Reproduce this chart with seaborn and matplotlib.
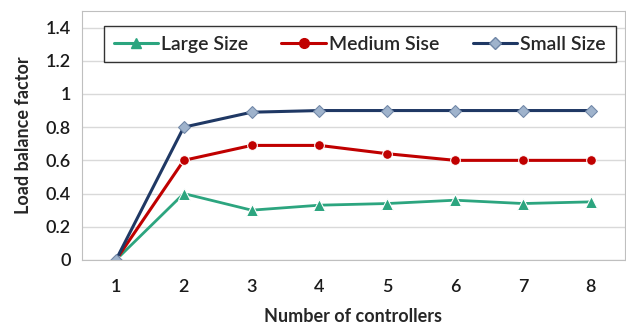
import matplotlib
matplotlib.use("Agg")
from matplotlib import pyplot as plt
from matplotlib.lines import Line2D
import seaborn as sns
import pandas as pd

controllers = [1, 2, 3, 4, 5, 6, 7, 8]
large_size = [0, 0.40, 0.30, 0.33, 0.34, 0.36, 0.34, 0.35]
medium_size = [0, 0.60, 0.69, 0.69, 0.64, 0.60, 0.60, 0.60]
small_size = [0, 0.80, 0.89, 0.90, 0.90, 0.90, 0.90, 0.90]
series_names = ["Large Size", "Medium Sise", "Small Size"]

df = pd.DataFrame({
    "controllers": controllers * 3,
    "value": large_size + medium_size + small_size,
    "series": [s for s in series_names for _ in controllers],
})

sns.set_style("whitegrid")
plt.rcParams["font.family"] = ["Lato", "DejaVu Sans"]
plt.rcParams["font.weight"] = "semibold"

fig = plt.figure(figsize=(6.26, 3.26), dpi=100)
ax = fig.add_axes([0.131, 0.2025, 0.867, 0.764])

# colours and markers per series
palette = {"Large Size": "#2ca57f", "Medium Sise": "#c00000", "Small Size": "#1f3864"}
markers = {"Large Size": "^", "Medium Sise": "o", "Small Size": "D"}
sns.lineplot(data=df, x="controllers", y="value", hue="series", style="series",
             palette=palette, markers=markers, dashes=False, linewidth=2.2,
             markersize=7, ax=ax, legend=False)

# lighter diamonds for the small size series
for line in ax.get_lines():
    if line.get_color() == "#1f3864":
        line.set_markerfacecolor("#9fb3cc")
        line.set_markeredgecolor("#6f86a6")
        line.set_markersize(6)
    elif line.get_color() == "#2ca57f":
        line.set_markersize(8)
        line.set_linewidth(2)

handles = [Line2D([], [], color=palette[s], marker=markers[s], linewidth=2.2,
                  markersize=7 if s != "Small Size" else 6,
                  markerfacecolor="#9fb3cc" if s == "Small Size" else palette[s],
                  markeredgecolor="#6f86a6" if s == "Small Size" else palette[s])
           for s in series_names]
leg = ax.legend(handles, series_names, loc="upper right", ncol=3, frameon=True,
                fancybox=False, edgecolor="black", fontsize=14, handlelength=2.3,
                handletextpad=0.15, columnspacing=1.7, bbox_to_anchor=(0.983, 0.94),
                borderpad=0.5, borderaxespad=0)
leg.get_frame().set_linewidth(1.0)

ax.set_xlim(0.5, 8.5)
ax.set_ylim(0, 1.5)
ax.set_xticks(controllers)
ax.set_yticks([0, 0.2, 0.4, 0.6, 0.8, 1.0, 1.2, 1.4])
ax.set_yticklabels(["0", "0.2", "0.4", "0.6", "0.8", "1", "1.2", "1.4"])
ax.grid(axis="x", visible=False)
ax.grid(axis="y", color="#d9d9d9", linewidth=1)
for sp in ax.spines.values():
    sp.set_color("#bfbfbf")
ax.tick_params(axis="both", labelsize=13, length=0, pad=8, labelcolor="#1a1a1a")
ax.tick_params(axis="x", pad=14)
ax.set_xlabel("Number of controllers", fontsize=13, fontweight="bold", labelpad=9)
ax.set_ylabel("Load balance factor", fontsize=13, fontweight="bold", labelpad=10)

fig.savefig("out.png", dpi=100)
